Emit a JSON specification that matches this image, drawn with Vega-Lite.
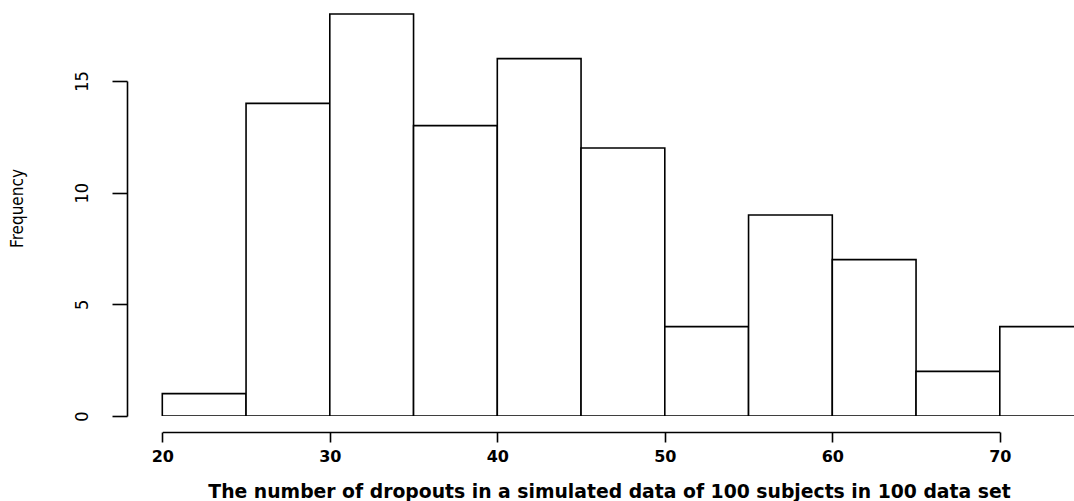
{
  "$schema": "https://vega.github.io/schema/vega-lite/v6.json",
  "autosize": "none",
  "width": 947,
  "height": 416,
  "padding": {"left": 127, "top": 0, "right": 0, "bottom": 85},
  "background": "white",
  "config": {"view": {"stroke": null}},
  "data": {
    "values": [
      {"start": 20, "end": 25, "count": 1},
      {"start": 25, "end": 30, "count": 14},
      {"start": 30, "end": 35, "count": 18},
      {"start": 35, "end": 40, "count": 13},
      {"start": 40, "end": 45, "count": 16},
      {"start": 45, "end": 50, "count": 12},
      {"start": 50, "end": 55, "count": 4},
      {"start": 55, "end": 60, "count": 9},
      {"start": 60, "end": 65, "count": 7},
      {"start": 65, "end": 70, "count": 2},
      {"start": 70, "end": 75, "count": 4}
    ]
  },
  "mark": {"type": "bar", "fill": "white", "stroke": "black", "strokeWidth": 1.6, "clip": true},
  "encoding": {
    "x": {
      "field": "start", "type": "quantitative",
      "scale": {"domain": [20, 70], "range": [35.3, 872.8], "nice": false, "zero": false, "padding": 0},
      "axis": {
        "values": [20, 30, 40, 50, 60, 70],
        "offset": 16,
        "grid": false,
        "labelFlush": false,
        "domainColor": "black", "domainWidth": 1.6,
        "tickColor": "black", "tickWidth": 1.6, "tickSize": 10,
        "labelFont": "DejaVu Sans", "labelFontWeight": "bold", "labelFontSize": 16, "labelColor": "black",
        "labelPadding": 6,
        "title": "The number of dropouts in a simulated data of 100 subjects in 100 data set",
        "titleFont": "DejaVu Sans", "titleFontWeight": "bold", "titleFontSize": 18.8, "titleColor": "black",
        "titleX": 482, "titleY": 59, "titleBaseline": "middle", "titleAnchor": "middle", "titleAlign": "center"
      }
    },
    "x2": {"field": "end"},
    "y": {
      "field": "count", "type": "quantitative",
      "scale": {"domain": [0, 15], "range": [416, 81], "nice": false, "zero": true, "padding": 0},
      "axis": {
        "values": [0, 5, 10, 15],
        "grid": false,
        "domainColor": "black", "domainWidth": 1.6,
        "tickColor": "black", "tickWidth": 1.6, "tickSize": 15,
        "labelAngle": -90, "labelAlign": "center", "labelBaseline": "middle",
        "labelFont": "Liberation Sans Narrow, DejaVu Sans Condensed, Liberation Sans", "labelFontSize": 18, "labelColor": "black",
        "labelPadding": 30,
        "title": "Frequency",
        "titleFont": "Liberation Sans Narrow, DejaVu Sans Condensed, Liberation Sans", "titleFontSize": 17, "titleFontWeight": "normal", "titleColor": "black",
        "titleX": -110, "titleY": 208, "titleBaseline": "middle", "titleAngle": -90
      }
    },
    "y2": {"datum": 0}
  }
}
